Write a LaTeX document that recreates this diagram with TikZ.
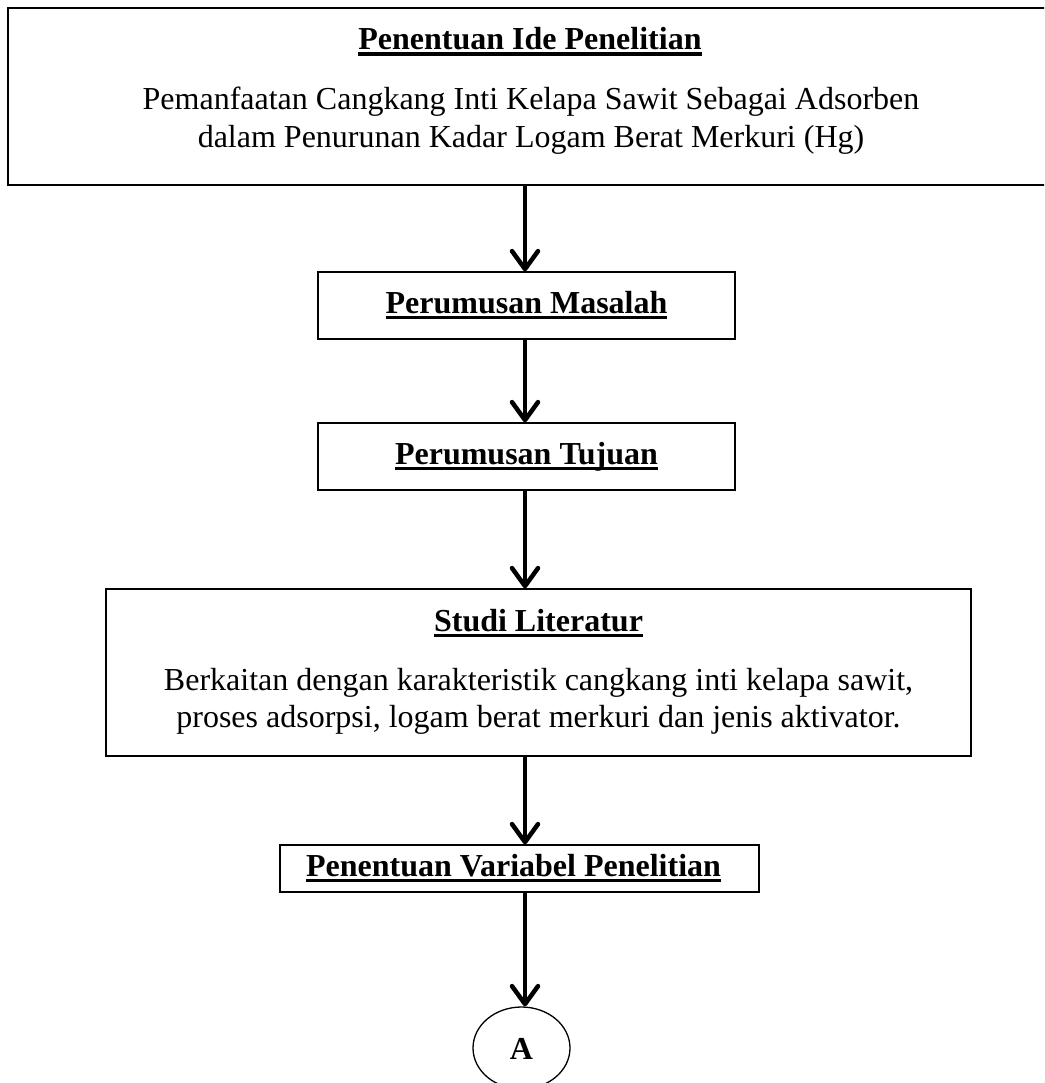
\documentclass[tikz,border=0pt]{standalone}
\usepackage{fontspec}
\setmainfont{Liberation Serif}
\usetikzlibrary{arrows.meta,shapes.geometric}
\newcommand\ulb[1]{\setbox0=\hbox{\bfseries #1}\rlap{\vrule height -2.5pt depth 6pt width \wd0}\box0}
\begin{document}
\begin{tikzpicture}[x=1pt,y=-1pt,
  box/.style={draw=black,line width=1.3pt,rectangle,inner sep=0pt},
  txt/.style={inner sep=0pt,anchor=base,font=\fontsize{32}{37}\selectfont},
  arr/.style={line width=4.5pt,-{Straight Barb[length=18pt,width=26pt,line join=round,line cap=round]}}]
\useasboundingbox (0,0) rectangle (1044,1083);
\clip (0,0) rectangle (1044,1083);
\fill[white] (0,0) rectangle (1044,1083);
% boxes
\node[box,minimum width=1042pt,minimum height=177pt] (b1) at (529,96.5) {};
\node[box,minimum width=417pt,minimum height=67pt] (b2) at (526.5,305.5) {};
\node[box,minimum width=417pt,minimum height=67pt] (b3) at (526.5,456.5) {};
\node[box,minimum width=865pt,minimum height=167pt] (b4) at (538.5,672.5) {};
\node[box,minimum width=479pt,minimum height=47pt] (b5) at (519.5,868.5) {};
\node[draw=black,line width=1.3pt,ellipse,inner sep=0pt,minimum width=97pt,minimum height=82pt] (e) at (521.5,1048) {};
% texts
\node[txt] (t1) at (530,50) {\ulb{Penentuan Ide Penelitian}};
\node[txt] (t1a) at (531,110) {Pemanfaatan Cangkang Inti Kelapa Sawit Sebagai Adsorben};
\node[txt] (t1b) at (531,148) {dalam Penurunan Kadar Logam Berat Merkuri (Hg)};
\node[txt] (t2) at (526.5,313) {\ulb{Perumusan Masalah}};
\node[txt] (t3) at (526.5,464) {\ulb{Perumusan Tujuan}};
\node[txt] (t4) at (538.5,631) {\ulb{Studi Literatur}};
\node[txt] (t4a) at (538.5,690) {Berkaitan dengan karakteristik cangkang inti kelapa sawit,};
\node[txt] (t4b) at (538.5,727) {proses adsorpsi, logam berat merkuri dan jenis aktivator.};
\node[txt] (t5) at (513.5,876) {\ulb{Penentuan Variabel Penelitian}};
\node[txt] (tA) at (521.5,1059) {\bfseries A};
% arrows
\coordinate (ax) at (525,0);
\draw[arr] (ax |- b1.south) -- (ax |- b2.north);
\draw[arr] (ax |- b2.south) -- (ax |- b3.north);
\draw[arr] (ax |- b3.south) -- (ax |- b4.north);
\draw[arr] (ax |- b4.south) -- (ax |- b5.north);
\draw[arr] (ax |- b5.south) -- (ax |- e.north);
\end{tikzpicture}
\end{document}
